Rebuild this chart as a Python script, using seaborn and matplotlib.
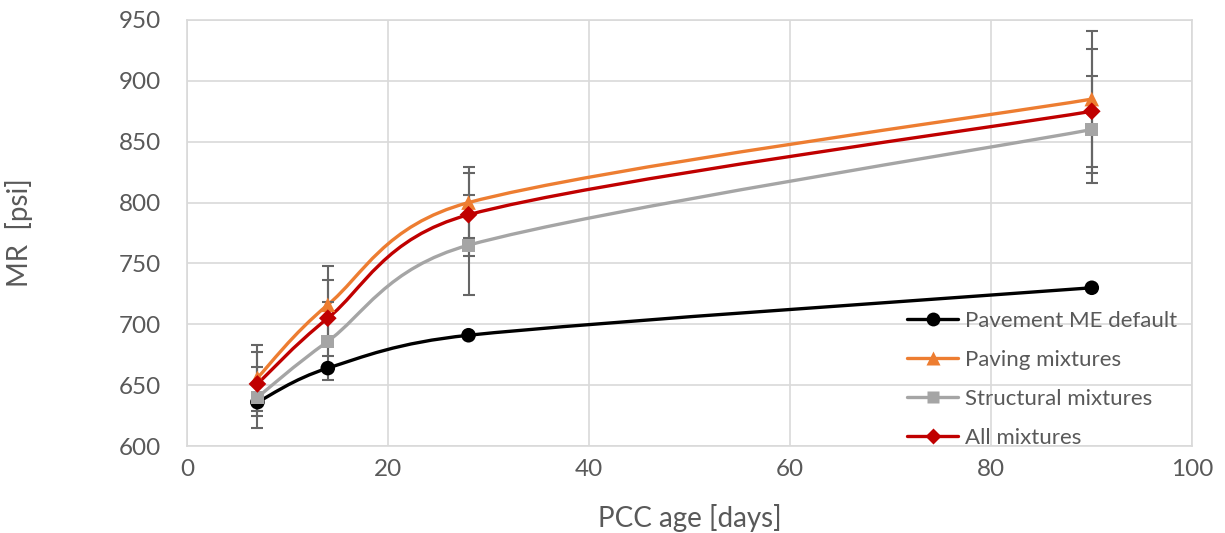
import numpy as np
import pandas as pd
import seaborn as sns
import matplotlib.pyplot as plt
from matplotlib.path import Path
from matplotlib.patches import PathPatch
from matplotlib.lines import Line2D

# --- Data ---
age_days = [7, 14, 28, 90]
series_names = ["Pavement ME default", "Paving mixtures", "Structural mixtures", "All mixtures"]
mr_default = [636, 664, 691, 730]
mr_paving = [656, 716, 800, 885]
mr_structural = [640, 686, 765, 860]
mr_all = [651, 705, 790, 875]
err_paving = [27, 32, 29, 56]
err_structural = [25, 32, 41, 44]
err_all = [26, 31, 34, 51]

# --- Styles ---
colors = ["#000000", "#ED7D31", "#A5A5A5", "#C00000"]
markers = ["o", "^", "s", "D"]
msizes = [10.5, 10.5, 9.5, 9]
text_color = "#595959"
grid_color = "#D9D9D9"

values = [mr_default, mr_paving, mr_structural, mr_all]
errors = [None, err_paving, err_structural, err_all]

df = pd.DataFrame({
    "age": age_days * 4,
    "mr": sum(values, []),
    "series": [s for s in series_names for _ in age_days],
})


def smooth_path(ax, x, y):
    # Excel-style smoothed line: Bezier segments built in screen space,
    # control arms capped at half the segment length
    to_px = ax.transData
    pts = to_px.transform(np.column_stack([x, y]).astype(float))
    n = len(pts)
    verts = [pts[0]]
    codes = [Path.MOVETO]
    for i in range(n - 1):
        p1, p2 = pts[i], pts[i + 1]
        p0 = pts[i - 1] if i > 0 else p1
        p3 = pts[i + 2] if i + 2 < n else p2
        half = np.linalg.norm(p2 - p1) / 2
        t1 = (p2 - p0) / 6
        t2 = (p3 - p1) / 6
        for t in (t1, t2):
            L = np.linalg.norm(t)
            if L > half:
                t *= half / L
        verts += [p1 + t1, p2 - t2, p2]
        codes += [Path.CURVE4] * 3
    verts = to_px.inverted().transform(np.array(verts))
    return Path(verts, codes)


# --- Visualization ---
sns.set_theme(style="whitegrid")
plt.rcParams["font.family"] = ["Lato", "DejaVu Sans"]

fig = plt.figure(figsize=(12.25, 5.33), dpi=100)
ax = fig.add_axes([0.1527, 0.1632, 0.8206, 0.7993])
ax.set_xlim(0, 100)
ax.set_ylim(600, 950)

for name, vals, err, c in zip(series_names, values, errors, colors):
    ax.add_patch(PathPatch(smooth_path(ax, age_days, vals), facecolor="none",
                           edgecolor=c, lw=2.4, zorder=2))
    if err is not None:
        ax.errorbar(age_days, vals, yerr=err, fmt="none", ecolor="#666666",
                    elinewidth=1.5, capsize=4.5, capthick=1.5, zorder=3)

for i, (name, c, m, ms) in enumerate(zip(series_names, colors, markers, msizes)):
    sub = df[df["series"] == name]
    sns.scatterplot(data=sub, x="age", y="mr", ax=ax, color=c, marker=m,
                    s=ms ** 2, edgecolor="none", legend=False, zorder=4 + i)

ax.set_xlim(0, 100)
ax.set_ylim(600, 950)
ax.set_xticks(range(0, 101, 20))
ax.set_yticks(range(600, 951, 50))
ax.grid(True, color=grid_color, lw=1.2)
for sp in ax.spines.values():
    sp.set_color(grid_color)
    sp.set_linewidth(1.2)
ax.tick_params(axis="both", length=0, labelsize=17.5, labelcolor=text_color)
ax.tick_params(axis="y", pad=19)
ax.tick_params(axis="x", pad=9)
ax.set_xlabel("PCC age [days]", fontsize=20, color=text_color)
ax.set_ylabel("MR  [psi]", fontsize=20, color=text_color)
ax.xaxis.set_label_coords(0.5, -0.135)
ax.yaxis.set_label_coords(-0.153, 0.5)

handles = [Line2D([0], [0], color=c, lw=2.4, marker=m, markersize=ms * 0.95,
                  markeredgecolor="none")
           for c, m, ms in zip(colors, markers, msizes)]
leg = ax.legend(handles, series_names, loc="upper left",
                bbox_to_anchor=(907 / 1225, 1 - 311 / 533),
                bbox_transform=fig.transFigure, frameon=False, fontsize=16,
                handlelength=2.3, handletextpad=0.3, labelspacing=0.85,
                borderpad=0, borderaxespad=0)
for t in leg.get_texts():
    t.set_color(text_color)

plt.savefig("out.png", dpi=100)
